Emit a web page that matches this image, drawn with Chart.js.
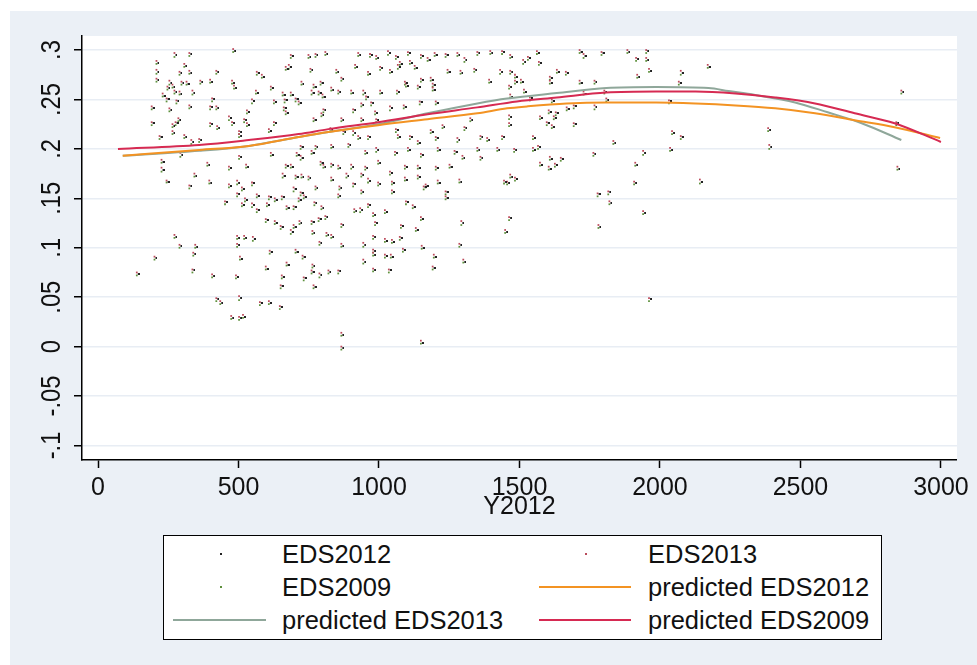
<!DOCTYPE html>
<html>
<head>
<meta charset="utf-8">
<script src="https://cdn.jsdelivr.net/npm/chart.js@4.4.1/dist/chart.umd.min.js"></script>
<style>
html, body { margin: 0; padding: 0; background: #fff; }
#wrap { position: relative; width: 977px; height: 665px; }
#c { position: absolute; left: 0; top: 0; }
#legend { position: absolute; left: 163px; top: 535px; width: 719px; height: 105px; box-sizing: border-box;
          border: 1.5px solid #000; background: #fff; }
.txt { position: absolute; font-family: "Liberation Sans", Arial, sans-serif; font-size: 25.5px; line-height: 26px;
       color: #111; white-space: nowrap; }
.dot { position: absolute; width: 2px; height: 2px; }
.ln { position: absolute; height: 2px; }
</style>
</head>
<body>
<div id="wrap">
<canvas id="c" width="977" height="665"></canvas>
<div id="legend">
  <div class="dot" style="left:56px;top:17px;background:#222"></div>
  <div class="txt" style="left:118px;top:5px">EDS2012</div>
  <div class="dot" style="left:421px;top:17px;background:#b94a5a"></div>
  <div class="txt" style="left:484px;top:5px">EDS2013</div>
  <div class="dot" style="left:56px;top:50px;background:#5d8f3c"></div>
  <div class="txt" style="left:118px;top:38px">EDS2009</div>
  <div class="ln" style="left:375px;width:92px;top:50px;background:#f39323"></div>
  <div class="txt" style="left:484px;top:38px">predicted EDS2012</div>
  <div class="ln" style="left:9px;width:93px;top:83px;background:#8fa79a"></div>
  <div class="txt" style="left:118px;top:71px">predicted EDS2013</div>
  <div class="ln" style="left:375px;width:92px;top:83px;background:#d62a52"></div>
  <div class="txt" style="left:484px;top:71px">predicted EDS2009</div>
</div>
</div>
<script>
// axis ticks
const xTickValues = [0, 500, 1000, 1500, 2000, 2500, 3000];
const xTickLabels = ['0', '500', '1000', '1500', '2000', '2500', '3000'];
const yTickValues = [-0.1, -0.05, 0, 0.05, 0.1, 0.15, 0.2, 0.25, 0.3];
const yTickLabels = ['-.1', '-.05', '0', '.05', '.1', '.15', '.2', '.25', '.3'];

// observations (Y2012 on x)
const xValues = [
138,201,208,208,208,191,191,230,219,226,
226,244,293,272,325,307,290,265,247,254,
265,244,325,254,297,315,364,399,421,477,
481,272,290,336,406,421,279,325,399,484,
530,520,530,466,477,286,276,265,399,424,
307,502,502,332,360,343,466,527,502,389,
396,325,466,495,548,512,495,565,608,601,
523,452,512,548,565,629,654,671,696,714,
732,770,795,696,721,774,597,629,650,696,
717,760,763,686,785,813,788,272,290,346,
495,495,520,551,339,505,611,703,728,671,
597,763,760,788,732,654,650,767,336,406,
491,421,435,502,576,608,647,474,502,516,
583,565,668,679,686,749,774,809,756,724,
767,792,562,548,615,657,664,686,703,714,
626,661,668,760,785,799,802,608,626,767,
795,721,707,721,774,760,792,802,668,686,
615,703,724,657,749,
926,968,990,1032,1060,1074,1103,1110,1149,1173,
1198,1237,1279,1304,1350,1396,1438,848,866,915,
961,1004,1039,1067,1092,1127,1149,1184,1191,1244,
1290,1339,1392,1431,1467,
830,855,901,944,954,1004,1064,1096,1138,1191,
1202,1145,1088,1039,972,937,908,986,990,937,
866,873,827,908,961,926,1060,1067,1110,1138,
1184,1202,1226,1279,1304,1325,1361,1385,1438,1463,
830,891,951,990,1057,1103,1149,1209,1269,1350,
1421,830,855,901,951,997,1092,1138,1202,1251,
1297,1361,830,884,937,997,1039,1092,1138,1166,
1286,1445,1467,
859,908,937,961,1046,1046,1159,1209,1237,1237,
855,809,912,933,961,979,986,1021,1096,1120,
1149,1078,1131,1293,1463,1449,866,830,979,1021,
1046,1074,866,944,979,979,1021,1042,1085,1152,
1195,1286,1300,944,1191,820,855,979,1035,866,
1149,866,
1467,1530,1562,1513,1569,1484,1484,1505,1608,1608,
1633,1665,1714,1728,1792,1884,1951,1951,1915,1919,
1961,1767,1714,2074,2067,1516,1463,1467,1537,1615,
1668,1693,1728,1767,1802,1809,2032,1604,1629,1622,
1573,1597,1615,1463,1693,1548,1566,1548,1481,1834,
2043,2074,2036,1940,1763,1608,1647,1573,1626,1604,
1912,1484,1908,2142,1456,2170,1816,1820,1778,1940,
1781,1961,2385,2389,2859,2845,2841
];

const eds2012 = [
.073,.090,.287,.278,.270,.241,.226,.254,.212,.187,
.179,.167,.194,.295,.296,.284,.277,.263,.262,.239,
.223,.250,.277,.267,.267,.266,.268,.268,.278,.267,
.299,.258,.256,.257,.250,.241,.248,.242,.242,.262,
.237,.229,.224,.231,.226,.229,.226,.216,.225,.221,
.212,.217,.213,.207,.209,.173,.181,.182,.192,.184,
.166,.162,.162,.166,.165,.159,.154,.152,.151,.143,
.148,.146,.143,.143,.138,.148,.151,.140,.141,.148,
.151,.145,.140,.159,.155,.160,.128,.125,.121,.121,
.125,.126,.115,.116,.129,.113,.105,.111,.102,.101,
.110,.103,.110,.109,.094,.089,.096,.096,.091,.083,
.079,.082,.075,.072,.069,.070,.061,.060,.077,.071,
.070,.048,.044,.049,.044,.044,.040,.029,.029,.030,
.273,.277,.281,.283,.294,.293,.295,.296,.280,.266,
.263,.267,.257,.248,.262,.255,.249,.255,.250,.246,
.247,.241,.236,.257,.257,.253,.239,.218,.226,.229,
.234,.202,.194,.191,.202,.196,.186,.182,.183,.182,
.194,.172,.172,.173,.171,
.295,.295,.292,.297,.293,.286,.297,.287,.294,.290,
.295,.295,.295,.290,.297,.297,.298,.278,.271,.283,
.276,.282,.278,.283,.267,.282,.270,.270,.265,.278,
.277,.280,.268,.278,.278,
.260,.258,.257,.257,.252,.257,.258,.264,.263,.260,
.246,.247,.242,.241,.246,.244,.239,.236,.229,.229,
.229,.217,.219,.216,.212,.211,.219,.212,.212,.206,
.217,.211,.222,.209,.221,.229,.212,.209,.212,.224,
.202,.204,.196,.199,.196,.199,.194,.199,.197,.199,
.199,.184,.181,.182,.181,.186,.182,.181,.181,.182,
.191,.191,.169,.173,.174,.164,.176,.169,.172,.162,
.167,.167,.172,
.160,.164,.156,.168,.166,.156,.161,.166,.156,.150,
.152,.131,.137,.138,.143,.133,.125,.136,.146,.141,
.129,.122,.118,.125,.130,.116,.123,.111,.111,.107,
.106,.110,.102,.103,.097,.093,.092,.091,.098,.100,
.091,.103,.086,.086,.080,.075,.076,.077,.077,.012,
.004,-.001,
.293,.292,.297,.288,.287,.273,.268,.268,.272,.267,
.278,.277,.298,.294,.297,.298,.299,.290,.291,.273,
.279,.268,.267,.277,.267,.258,.263,.253,.251,.248,
.240,.243,.256,.242,.258,.249,.248,.237,.236,.231,
.231,.226,.222,.232,.225,.211,.202,.199,.199,.206,
.216,.212,.199,.196,.195,.190,.190,.184,.184,.180,
.184,.170,.165,.167,.166,.283,.156,.145,.154,.135,
.121,.048,.219,.202,.258,.180,.226
];

const eds2013 = [
.075,.091,.289,.280,.271,.243,.227,.256,.213,.189,
.181,.168,.196,.297,.297,.286,.278,.265,.263,.241,
.225,.251,.279,.269,.268,.268,.269,.270,.279,.269,
.301,.259,.258,.259,.251,.243,.249,.244,.243,.264,
.239,.230,.226,.233,.227,.231,.227,.218,.226,.223,
.214,.218,.215,.209,.210,.175,.182,.184,.193,.186,
.168,.163,.164,.168,.166,.161,.155,.154,.152,.145,
.150,.147,.145,.145,.139,.150,.152,.142,.142,.150,
.153,.146,.142,.161,.156,.162,.129,.127,.122,.123,
.127,.127,.117,.118,.130,.115,.106,.113,.103,.103,
.112,.104,.112,.111,.095,.091,.097,.098,.092,.085,
.081,.083,.077,.074,.070,.072,.062,.062,.078,.073,
.072,.049,.046,.051,.045,.046,.041,.031,.030,.032,
.275,.278,.283,.285,.295,.295,.296,.298,.281,.268,
.265,.268,.259,.250,.263,.257,.250,.257,.251,.248,
.249,.242,.238,.259,.258,.255,.240,.220,.227,.231,
.236,.203,.196,.193,.203,.198,.187,.184,.184,.184,
.196,.173,.174,.175,.172,
.297,.296,.294,.299,.294,.288,.298,.289,.295,.292,
.297,.296,.297,.292,.298,.299,.299,.280,.272,.285,
.278,.283,.280,.285,.268,.284,.271,.272,.266,.280,
.279,.281,.270,.280,.279,
.262,.259,.259,.259,.253,.259,.259,.266,.264,.262,
.248,.248,.244,.243,.247,.246,.240,.238,.230,.231,
.231,.218,.221,.218,.213,.213,.220,.214,.213,.208,
.219,.212,.224,.211,.222,.231,.213,.211,.213,.226,
.204,.205,.198,.201,.197,.201,.195,.201,.198,.201,
.201,.185,.183,.184,.182,.188,.183,.183,.182,.184,
.193,.192,.171,.175,.175,.166,.177,.171,.173,.164,
.169,.168,.174,
.162,.165,.158,.170,.167,.158,.162,.168,.157,.152,
.154,.132,.139,.140,.144,.135,.126,.138,.147,.143,
.131,.123,.120,.127,.131,.118,.124,.113,.112,.109,
.108,.111,.104,.105,.098,.095,.093,.093,.099,.102,
.093,.104,.088,.088,.081,.077,.077,.079,.078,.014,
.006,.000,
.295,.293,.299,.290,.288,.275,.269,.270,.273,.269,
.280,.278,.300,.296,.298,.300,.300,.292,.292,.275,
.281,.269,.269,.279,.268,.260,.264,.255,.252,.250,
.242,.244,.258,.244,.259,.251,.249,.239,.237,.233,
.233,.227,.224,.234,.226,.213,.203,.201,.200,.208,
.218,.213,.201,.198,.196,.192,.191,.186,.185,.182,
.186,.171,.167,.169,.167,.285,.157,.147,.155,.137,
.123,.049,.221,.204,.259,.182,.227
];

const eds2009 = [
.072,.088,.286,.276,.268,.240,.224,.253,.210,.186,
.177,.166,.192,.293,.294,.283,.275,.262,.260,.238,
.222,.248,.276,.265,.265,.265,.266,.267,.276,.266,
.298,.256,.255,.255,.248,.240,.246,.241,.240,.261,
.236,.227,.223,.229,.224,.228,.224,.215,.223,.220,
.211,.215,.212,.205,.207,.172,.179,.181,.190,.183,
.165,.160,.161,.164,.163,.158,.152,.151,.149,.142,
.147,.144,.142,.141,.136,.147,.149,.139,.139,.147,
.150,.143,.139,.157,.153,.159,.126,.124,.119,.120,
.124,.124,.114,.114,.127,.112,.103,.110,.100,.100,
.109,.101,.109,.107,.092,.088,.094,.095,.089,.082,
.078,.080,.074,.070,.067,.069,.059,.059,.075,.070,
.069,.046,.043,.047,.042,.043,.038,.028,.027,.029,
.272,.275,.280,.281,.292,.292,.293,.295,.278,.265,
.262,.265,.256,.246,.260,.254,.247,.254,.248,.245,
.246,.239,.235,.255,.255,.252,.237,.217,.224,.228,
.233,.200,.193,.189,.200,.195,.184,.181,.181,.181,
.193,.170,.171,.171,.169,
.294,.293,.291,.295,.291,.285,.295,.286,.292,.289,
.294,.293,.294,.288,.295,.296,.296,.277,.269,.282,
.275,.280,.277,.281,.265,.281,.268,.269,.263,.277,
.276,.278,.267,.276,.276,
.259,.256,.256,.255,.250,.256,.256,.263,.261,.259,
.245,.245,.241,.239,.244,.243,.237,.235,.227,.228,
.228,.215,.218,.214,.210,.210,.217,.211,.210,.205,
.216,.209,.221,.207,.219,.228,.210,.208,.210,.223,
.201,.202,.195,.197,.194,.198,.192,.198,.195,.198,
.198,.182,.180,.180,.179,.185,.180,.180,.179,.181,
.190,.189,.168,.171,.172,.163,.174,.168,.170,.161,
.166,.165,.171,
.159,.162,.155,.166,.164,.155,.159,.165,.154,.149,
.151,.129,.136,.136,.141,.132,.123,.135,.144,.140,
.128,.120,.117,.123,.128,.115,.121,.110,.109,.106,
.105,.108,.101,.101,.095,.092,.090,.090,.096,.099,
.090,.101,.085,.084,.078,.074,.074,.076,.075,.011,
.003,-.003,
.292,.290,.296,.286,.285,.272,.266,.267,.270,.266,
.277,.275,.297,.292,.295,.297,.297,.289,.289,.272,
.278,.266,.266,.275,.265,.257,.261,.252,.249,.247,
.239,.241,.255,.240,.256,.248,.246,.236,.234,.230,
.230,.224,.221,.230,.223,.210,.200,.198,.197,.205,
.215,.210,.198,.194,.193,.189,.188,.183,.182,.179,
.183,.168,.164,.165,.164,.282,.154,.144,.152,.134,
.120,.046,.218,.200,.256,.179,.224
];

// fitted curves
const fit2009X = [71, 360, 537, 714, 820, 997, 1173, 1350, 1491, 1633, 1809, 1986, 2127, 2269, 2410, 2552, 2693, 2835, 3000];
const fit2009Y = [0.200, 0.204, 0.209, 0.215, 0.220, 0.227, 0.235, 0.242, 0.248, 0.252, 0.257, 0.258, 0.258, 0.256, 0.252, 0.246, 0.236, 0.226, 0.207];
const fit2013X = [88, 360, 537, 714, 820, 997, 1173, 1350, 1456, 1633, 1809, 1986, 2173, 2244, 2339, 2481, 2597, 2718, 2859];
const fit2013Y = [0.193, 0.198, 0.203, 0.212, 0.217, 0.225, 0.236, 0.246, 0.251, 0.2565, 0.2615, 0.2625, 0.2615, 0.2585, 0.2545, 0.247, 0.237, 0.226, 0.209];
const fit2012X = [88, 360, 537, 714, 820, 997, 1173, 1350, 1456, 1527, 1668, 1809, 1986, 2127, 2269, 2410, 2552, 2693, 2835, 2997];
const fit2012Y = [0.193, 0.199, 0.203, 0.212, 0.217, 0.224, 0.230, 0.236, 0.241, 0.243, 0.246, 0.247, 0.247, 0.246, 0.244, 0.241, 0.236, 0.229, 0.222, 0.211];

function points(xs, ys) {
    return xs.map((x, i) => ({ x: x, y: ys[i] }));
}

function lineDataset(label, xs, ys, color) {
    return {
        label: label,
        data: points(xs, ys),
        showLine: true,
        borderColor: color,
        borderWidth: 2,
        pointRadius: 0,
        cubicInterpolationMode: 'monotone'
    };
}

function dotDataset(label, ys, color, style) {
    return {
        label: label,
        data: points(xValues, ys),
        showLine: false,
        pointStyle: style || 'rect',
        pointRadius: 1.25,
        pointBorderWidth: 0,
        backgroundColor: color,
        borderColor: color
    };
}

// Stata draws the black marker a touch to the right of the others
function shiftedDot(color) {
    const c = document.createElement('canvas');
    c.width = 6;
    c.height = 2;
    const g = c.getContext('2d');
    g.fillStyle = color;
    g.fillRect(4, 0, 2, 2);
    return c;
}

const background = {
    id: 'background',
    beforeDraw(chart) {
        const { ctx, chartArea } = chart;
        ctx.save();
        ctx.fillStyle = '#fff';
        ctx.fillRect(0, 0, chart.width, chart.height);
        ctx.fillStyle = '#ebf0f6';
        ctx.fillRect(10, 11, chart.width - 10, chart.height - 11);
        ctx.fillStyle = '#fff';
        ctx.fillRect(chartArea.left, chartArea.top, chartArea.right - chartArea.left, chartArea.bottom - chartArea.top);
        ctx.restore();
    }
};

// y labels are written upwards, as in the original
const yLabels = {
    id: 'yLabels',
    afterDraw(chart) {
        const { ctx } = chart;
        const y = chart.scales.y;
        ctx.save();
        ctx.fillStyle = '#111';
        ctx.font = '28px "Liberation Sans", Arial, sans-serif';
        ctx.textAlign = 'center';
        ctx.textBaseline = 'middle';
        yTickValues.forEach((v, i) => {
            ctx.save();
            ctx.translate(52, y.getPixelForValue(v));
            ctx.rotate(-Math.PI / 2);
            ctx.scale(0.85, 1);
            ctx.fillText(yTickLabels[i], 0, 0);
            ctx.restore();
        });
        ctx.restore();
    }
};

Chart.defaults.font.family = '"Liberation Sans", Arial, sans-serif';

new Chart(document.getElementById('c'), {
    type: 'scatter',
    data: {
        datasets: [
            lineDataset('predicted EDS2009', fit2009X, fit2009Y, '#d62a52'),
            lineDataset('predicted EDS2012', fit2012X, fit2012Y, '#f39323'),
            lineDataset('predicted EDS2013', fit2013X, fit2013Y, '#8fa79a'),
            dotDataset('EDS2012', eds2012, '#222', shiftedDot('#222')),
            dotDataset('EDS2013', eds2013, '#bd4b5c'),
            dotDataset('EDS2009', eds2009, '#5f923e')
        ]
    },
    options: {
        responsive: false,
        animation: false,
        devicePixelRatio: 1,
        layout: { padding: { top: 36, right: 14, bottom: 151, left: 0 } },
        plugins: { legend: { display: false }, tooltip: { enabled: false } },
        scales: {
            x: {
                type: 'linear',
                min: -57,
                max: 3057,
                afterBuildTicks: s => { s.ticks = xTickValues.map(v => ({ value: v })); },
                afterFit: s => { s.height = 54; },
                grid: { drawOnChartArea: false, tickLength: 8, tickColor: '#000', tickWidth: 1.5 },
                border: { display: true, color: '#000', width: 1.5 },
                ticks: {
                    color: '#111', padding: 8, maxRotation: 0, autoSkip: false,
                    font: { size: 25, lineHeight: 1 },
                    callback: (v, i) => xTickLabels[i]
                },
                title: {
                    display: true, text: 'Y2012', color: '#111',
                    font: { size: 25, lineHeight: 0.56 }, padding: { top: 0, bottom: 0 }
                }
            },
            y: {
                type: 'linear',
                min: -0.1147,
                max: 0.3142,
                afterBuildTicks: s => { s.ticks = yTickValues.map(v => ({ value: v })); },
                afterFit: s => { s.width = 82; },
                grid: { color: '#e8edf4', lineWidth: 1.5, tickLength: 8, tickColor: '#000', tickWidth: 1.5 },
                border: { display: true, color: '#000', width: 1.5 },
                ticks: { display: false }
            }
        }
    },
    plugins: [background, yLabels]
});
</script>
</body>
</html>
